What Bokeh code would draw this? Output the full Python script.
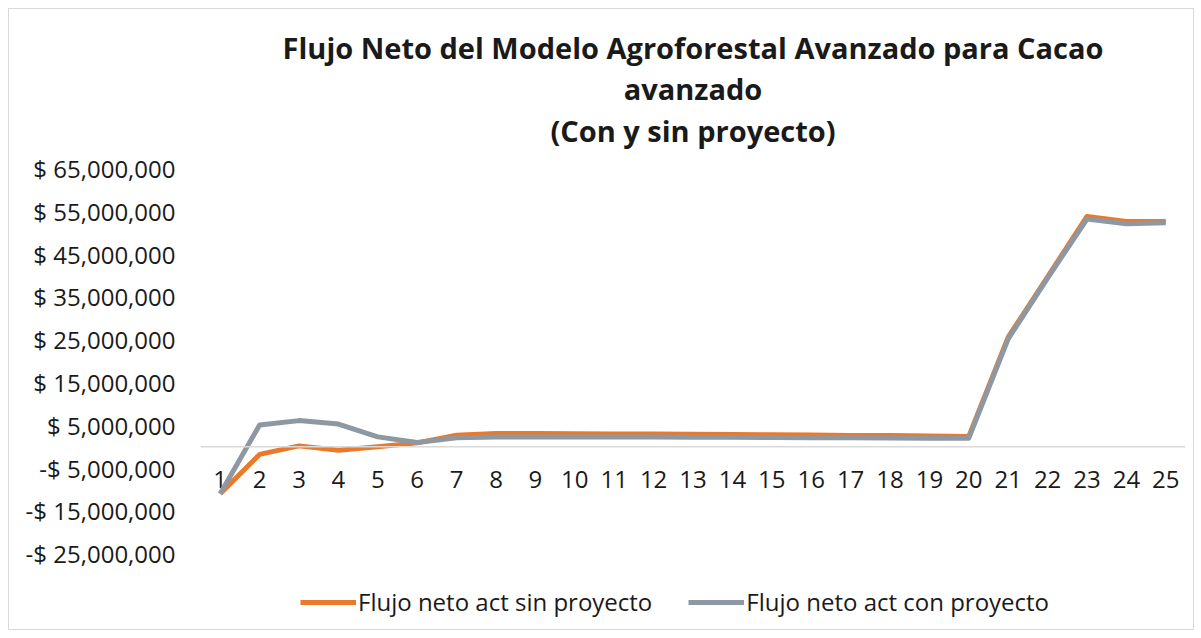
from bokeh.plotting import figure
from bokeh.models import Range1d, FixedTicker, CustomJSTickFormatter, Legend, LegendItem, Title, Span, ColumnDataSource
from bokeh.core.properties import value
from bokeh.embed import file_html
from bokeh.resources import INLINE

# ---- data (values in millions of pesos) ----
years = list(range(1, 26))
sin_proyecto_m = [-11.0, -1.8, 0.2, -0.8, 0.0, 0.9, 2.7, 3.1, 3.1, 3.05, 3.0, 2.95, 2.9,
                  2.85, 2.8, 2.75, 2.65, 2.6, 2.5, 2.4, 25.6, 39.7, 53.8, 52.6, 52.6]
con_proyecto_m = [-11.0, 5.1, 6.1, 5.3, 2.3, 1.0, 2.1, 2.3, 2.3, 2.3, 2.25, 2.25, 2.2,
                  2.2, 2.15, 2.1, 2.1, 2.05, 2.0, 2.0, 25.2, 39.4, 53.2, 52.1, 52.3]
y_ticks_m = [-25, -15, -5, 5, 15, 25, 35, 45, 55, 65]
series_names = ["Flujo neto act sin proyecto", "Flujo neto act con proyecto"]
title_lines = ["Flujo Neto del Modelo Agroforestal Avanzado para Cacao",
               "avanzado",
               "(Con y sin proyecto)"]

sin_proyecto = [v * 1e6 for v in sin_proyecto_m]
con_proyecto = [v * 1e6 for v in con_proyecto_m]
y_ticks = [v * 1e6 for v in y_ticks_m]

FONT = "Open Sans"
TXT = "#1a1a1a"
LBL = "24px"

# the frame extends below the lowest tick so that the legend can sit inside it
p = figure(frame_width=985, frame_height=458, output_backend="svg", toolbar_location=None,
           x_range=Range1d(0.5, 25.5), y_range=Range1d(-42e6, 65e6),
           min_border_left=191, min_border_right=8, min_border_top=159, min_border_bottom=3)
p.styles = {"margin-left": "8px", "margin-top": "8px", "border": "1px solid #D9D9D9"}

def style_title(t, standoff, size="29px"):
    t.align = "center"
    t.text_font = FONT
    t.text_font_size = size
    t.text_font_style = "bold"
    t.text_color = TXT
    t.standoff = standoff

p.title.text = title_lines[0]
style_title(p.title, 0)
spacer = Title(text=" "); style_title(spacer, 0, "11px")
p.add_layout(spacer, "above")
t3 = Title(text=title_lines[2]); style_title(t3, 3)
p.add_layout(t3, "above")
t2 = Title(text=title_lines[1]); style_title(t2, 0)
t2.text_line_height = 0.85
p.add_layout(t2, "above")

p.grid.visible = False
p.outline_line_color = None

# y axis
ya = p.yaxis[0]
ya.ticker = FixedTicker(ticks=y_ticks)
ya.formatter = CustomJSTickFormatter(code="""
const a = Math.abs(tick).toLocaleString('en-US');
return (tick < 0 ? '-$ ' : '$ ') + a;
""")
ya.axis_line_color = None
ya.major_tick_line_color = None
ya.minor_tick_line_color = None
ya.major_label_text_font = FONT
ya.major_label_text_font_size = LBL
ya.major_label_text_color = TXT
ya.major_label_standoff = 19

# category axis drawn along zero
p.xaxis.visible = False
p.add_layout(Span(location=0, dimension="width", line_color="#D9D9D9", line_width=1.5))
lab_src = ColumnDataSource(dict(x=years, y=[0] * len(years), t=[str(y) for y in years]))
p.text(x="x", y="y", text="t", source=lab_src, text_font=value(FONT), text_font_size=LBL,
       text_color=TXT, text_align="center", text_baseline="middle", y_offset=33)

r1 = p.line(years, sin_proyecto, line_color="#E97A2C", line_width=5, line_join="round")
r2 = p.line(years, con_proyecto, line_color="#8D98A3", line_width=5, line_join="round")

legend = Legend(items=[LegendItem(label=series_names[0], renderers=[r1]),
                       LegendItem(label=series_names[1], renderers=[r2])],
                orientation="horizontal", location=(100, 8))
legend.label_text_font = FONT
legend.label_text_font_size = LBL
legend.label_text_color = TXT
legend.glyph_width = 56
legend.glyph_height = 20
legend.label_standoff = 2
legend.spacing = 36
legend.padding = 0
legend.margin = 0
legend.border_line_color = None
legend.background_fill_alpha = 0
p.add_layout(legend, "center")

open("out.html", "w").write(file_html(p, INLINE))
